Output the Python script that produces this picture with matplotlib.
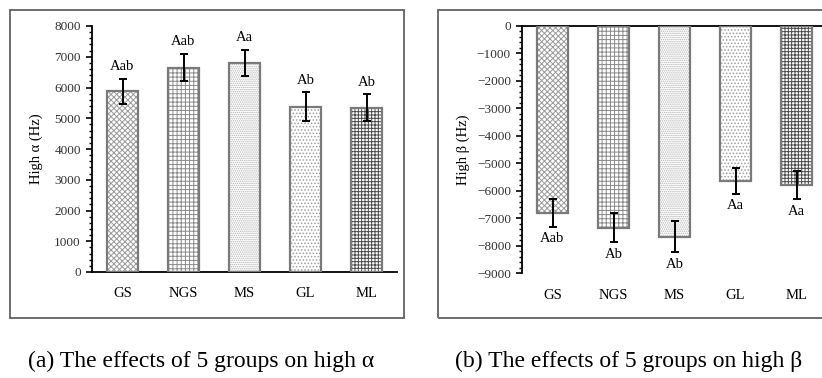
import matplotlib
matplotlib.use('Agg')
import matplotlib.pyplot as plt
from matplotlib.patches import Rectangle
from matplotlib.ticker import MultipleLocator

plt.rcParams['font.family'] = ['Liberation Serif', 'DejaVu Serif']
plt.rcParams['hatch.linewidth'] = 0.7

groups = ['GS', 'NGS', 'MS', 'GL', 'ML']

alpha_mean = [5870, 6650, 6810, 5380, 5345]
alpha_err = [420, 445, 425, 460, 430]
alpha_sig = ['Aab', 'Aab', 'Aa', 'Ab', 'Ab']

beta_mean = [-6790, -7340, -7670, -5640, -5790]
beta_err = [510, 525, 560, 460, 520]
beta_sig = ['Aab', 'Ab', 'Ab', 'Aa', 'Aa']

hatches = ['xxxxxx', '++++', '........', '.....', '+++++']
hatch_cols = ['#9a9a9a', '#8a8a8a', '#b5b5b5', '#a0a0a0', '#4a4a4a']


def draw_bars(ax, means, errs):
    x = range(len(groups))
    # hatch layer, then grey outline on top
    for i in x:
        ax.bar(i, means[i], width=0.52, color='white', edgecolor=hatch_cols[i],
               hatch=hatches[i], linewidth=0, zorder=2)
    ax.bar(x, means, width=0.52, fill=False, edgecolor='#7a7a7a', linewidth=1.6, zorder=3)
    ax.errorbar(x, means, yerr=errs, fmt='none', ecolor='black', elinewidth=1.4,
                capsize=3, capthick=1.4, zorder=4)
    ax.set_xlim(-0.5, 4.5)
    ax.set_xticks(list(x))
    ax.set_xticklabels(groups, fontsize=10.5)
    ax.tick_params(axis='x', length=0, pad=11)
    ax.tick_params(axis='y', which='major', length=4, width=1.2, labelsize=9.5,
                   labelcolor='#333333', pad=4)
    ax.tick_params(axis='y', which='minor', length=2.5, width=1)
    ax.yaxis.set_major_locator(MultipleLocator(1000))
    ax.yaxis.set_minor_locator(MultipleLocator(200))
    for s in ['right', 'top', 'bottom', 'left']:
        ax.spines[s].set_visible(False)
    ax.spines['left'].set_visible(True)
    ax.spines['left'].set_linewidth(1.3)


fig = plt.figure(figsize=(8.22, 3.78), dpi=100)

# panel (a)
ax1 = fig.add_axes([92 / 822, 1 - 272 / 378, 305 / 822, 246 / 378])
draw_bars(ax1, alpha_mean, alpha_err)
ax1.set_ylim(0, 8000)
ax1.spines['bottom'].set_visible(True)
ax1.spines['bottom'].set_linewidth(1.3)
ax1.set_ylabel('High α (Hz)', fontsize=10.5, labelpad=8)
for i in range(len(groups)):
    ax1.annotate(alpha_sig[i], (i, alpha_mean[i] + alpha_err[i]), xytext=(0, 4),
                 textcoords='offset points', ha='center', va='bottom', fontsize=10.5)

# panel (b)
ax2 = fig.add_axes([522 / 822, 1 - 273.3 / 378, 305 / 822, 247.3 / 378])
draw_bars(ax2, beta_mean, beta_err)
ax2.set_ylim(-9000, 0)
ax2.spines['top'].set_visible(True)
ax2.spines['top'].set_linewidth(1.3)
ax2.set_ylabel('High β (Hz)', fontsize=10.5, labelpad=5)
for i in range(len(groups)):
    ax2.annotate(beta_sig[i], (i, beta_mean[i] - beta_err[i]), xytext=(0, -4),
                 textcoords='offset points', ha='center', va='top', fontsize=10.5)

# panel frames
fig.patches.append(Rectangle((10 / 822, 1 - 318 / 378), 394 / 822, 308 / 378,
                             transform=fig.transFigure, fill=False,
                             edgecolor='#6e6e6e', linewidth=1.4))
fig.patches.append(Rectangle((438 / 822, 1 - 318 / 378), 400 / 822, 308 / 378,
                             transform=fig.transFigure, fill=False,
                             edgecolor='#6e6e6e', linewidth=1.4))

fig.text(28 / 822, 1 - 367 / 378, '(a) The effects of 5 groups on high α',
         ha='left', va='baseline', fontsize=17)
fig.text(455 / 822, 1 - 367 / 378, '(b) The effects of 5 groups on high β',
         ha='left', va='baseline', fontsize=17)

fig.savefig('out.png', dpi=100)
